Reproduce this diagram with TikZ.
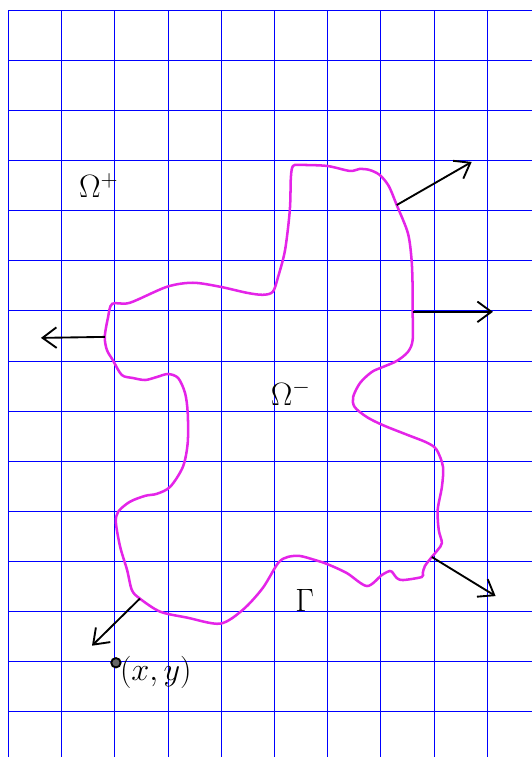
\documentclass[tikz,border=0pt]{standalone}
\usepackage{amsmath,amssymb}
\usepackage{tikz}
\usetikzlibrary{arrows.meta, positioning}
\usepackage{xcolor}
\definecolor{curvecol}{RGB}{228,36,232}

\begin{document}
\begin{tikzpicture}[x=1cm, y=0.9427cm, every node/.style={font=\LARGE},
    normalvec/.style={line width=1pt, -{Straight Barb[length=7.5pt, width=11pt]}}]
  \useasboundingbox (-0.16,0.2) rectangle (9.84,-14.9);
  \draw[blue, line width=0.45pt, step={(1,1)}] (0,-14.9) grid (9.84,0);

  % boundary Gamma
  \draw[curvecol, line width=1.35pt] plot[smooth cycle, tension=0.5] coordinates {
    (5.35,-3.11) (5.48,-3.09) (5.99,-3.11) (6.42,-3.21) (6.60,-3.17) (6.79,-3.19)
    (6.98,-3.29) (7.15,-3.51) (7.30,-3.89) (7.51,-4.45) (7.58,-4.99) (7.60,-5.58)
    (7.60,-6.02) (7.60,-6.58) (7.51,-6.82) (7.30,-7.00) (7.04,-7.12) (6.83,-7.22)
    (6.61,-7.44) (6.48,-7.72) (6.51,-7.92) (6.74,-8.12) (7.04,-8.28) (7.49,-8.47)
    (7.87,-8.63) (8.05,-8.77) (8.17,-9.11) (8.15,-9.51) (8.07,-9.97) (8.09,-10.37)
    (8.15,-10.63) (8.07,-10.77) (7.96,-10.91) (7.83,-11.09) (7.79,-11.23) (7.77,-11.31)
    (7.42,-11.37) (7.30,-11.33) (7.23,-11.23) (7.17,-11.19) (7.02,-11.27) (6.74,-11.49)
    (6.36,-11.23) (5.99,-11.05) (5.76,-10.97) (5.48,-10.89) (5.25,-10.91) (5.07,-11.03)
    (4.78,-11.53) (4.41,-11.96) (3.98,-12.24) (3.36,-12.12) (2.85,-12.00) (2.47,-11.74)
    (2.32,-11.57) (2.23,-11.17) (2.10,-10.71) (2.02,-10.23) (2.06,-10.01) (2.28,-9.81)
    (2.57,-9.69) (2.79,-9.65) (3.04,-9.51) (3.28,-9.11) (3.37,-8.63) (3.37,-8.04)
    (3.32,-7.64) (3.19,-7.34) (3.00,-7.26) (2.79,-7.32) (2.57,-7.38) (2.34,-7.34)
    (2.13,-7.28) (1.96,-6.98) (1.85,-6.78) (1.81,-6.52) (1.87,-6.14) (1.95,-5.86)
    (2.28,-5.84) (2.98,-5.52) (3.47,-5.44) (3.98,-5.52) (4.48,-5.64) (4.78,-5.68)
    (4.97,-5.62) (5.07,-5.32) (5.20,-4.79) (5.29,-3.99) (5.31,-3.33)};

  % normals
  \coordinate (base1) at (7.30,-3.89);
  \coordinate (tip1) at (8.71,-3.03);
  \coordinate (base2) at (7.60,-6.02);
  \coordinate (tip2) at (9.11,-6.02);
  \coordinate (base3) at (1.81,-6.52);
  \coordinate (tip3) at (0.61,-6.54);
  \coordinate (base4) at (7.96,-10.91);
  \coordinate (tip4) at (9.16,-11.69);
  \coordinate (base5) at (2.47,-11.74);
  \coordinate (tip5) at (1.57,-12.68);
  \draw[normalvec] (base1) -- (tip1);
  \draw[normalvec] (base2) -- (tip2);
  \draw[normalvec] (base3) -- (tip3);
  \draw[normalvec] (base4) -- (tip4);
  \draw[normalvec] (base5) -- (tip5);

  \node (omplus) at (1.70,-3.50) {$\Omega^+$};
  \node (omminus) at (5.31,-7.64) {$\Omega^-$};
  \node (gam) at (5.57,-11.77) {$\Gamma$};
  \node[circle, draw, line width=1pt, fill=black!60, inner sep=0pt, minimum size=5pt] (pt) at (2.02,-13.02) {};
  \node[anchor=west, inner sep=0pt, xshift=-1pt, yshift=-5pt] (ptlabel) at (pt.east) {$(x,y)$};
\end{tikzpicture}
\end{document}
